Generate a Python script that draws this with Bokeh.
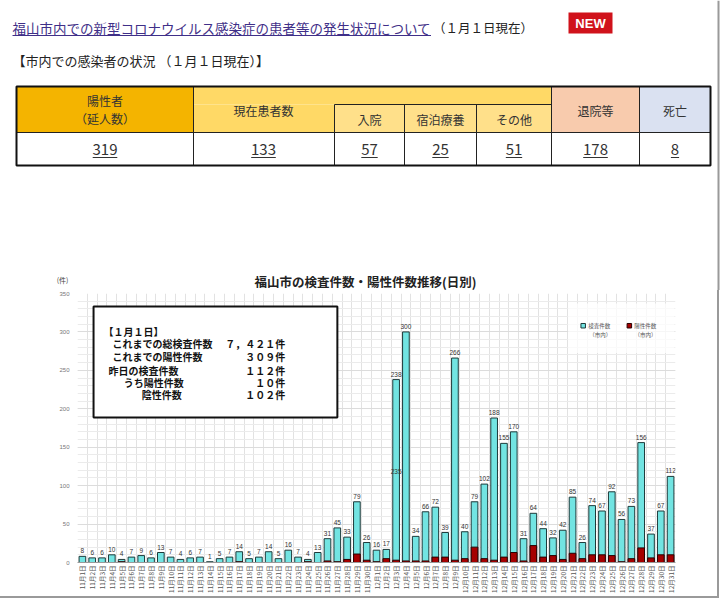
import math
from bokeh.plotting import figure
from bokeh.models import Range1d, FixedTicker, SingleIntervalTicker, ColumnDataSource
from bokeh.embed import file_html
from bokeh.resources import INLINE
from bokeh.core.properties import value

JP = value("Noto Sans CJK JP")

# ---------------- data ----------------
page_title = "福山市内での新型コロナウイルス感染症の患者等の発生状況について"
page_title_date = "（１月１日現在）"
badge_text = "NEW"
section_title = "【市内での感染者の状況 （１月１日現在）】"

status_labels = ["陽性者", "（延人数）", "現在患者数", "入院", "宿泊療養", "その他", "退院等", "死亡"]
status_values = [319, 133, 57, 25, 51, 178, 8]

chart_title = "福山市の検査件数・陽性件数推移(日別)"
unit_label = "(件)"

dates = [f"11月{d}日" for d in range(1, 31)] + [f"12月{d}日" for d in range(1, 32)]
tests = [8, 6, 6, 10, 4, 7, 9, 6, 13, 7,
         4, 6, 7, 1, 5, 7, 14, 5, 7, 14,
         5, 16, 7, 4, 13, 31, 45, 33, 79, 26,
         16, 17, 238, 300, 34, 66, 72, 39, 266, 40,
         79, 102, 188, 155, 170, 31, 64, 44, 32, 42,
         85, 26, 74, 67, 92, 56, 73, 156, 37, 67,
         112]
positives = [0, 0, 0, 0, 1, 0, 0, 0, 0, 0,
             0, 0, 0, 0, 0, 0, 1, 0, 0, 0,
             0, 0, 0, 1, 0, 2, 1, 4, 11, 3,
             1, 5, 3, 2, 2, 2, 7, 7, 3, 5,
             20, 5, 3, 7, 13, 2, 22, 7, 9, 4,
             12, 5, 10, 10, 9, 1, 5, 19, 6, 10,
             10]
negative_label_day = "12月3日"

info_head = "【１月１日】"
info_labels = ["これまでの総検査件数", "これまでの陽性件数", "昨日の検査件数", "うち陽性件数", "陰性件数"]
info_values = ["７，４２１件", "３０９件", "１１２件", "１０件", "１０２件"]

legend_labels = ["検査件数", "陽性件数"]
legend_sub = "（市内）"

# ---------------- header (page part) ----------------
W = 720
HH = 290          # header height (picture y 0..290)
CW = 717          # chart canvas width (border drawn to its right)
CH = 306          # chart canvas height (border drawn below)
BW = 2            # panel border width

h = figure(width=W, height=HH, x_range=Range1d(0, W), y_range=Range1d(HH, 0),
           x_axis_type=None, y_axis_type=None, output_backend="svg",
           toolbar_location=None, min_border=0)
h.grid.visible = False
h.outline_line_color = None

link_col = "#3F2F88"
fs_title = 13.5
h.text(x=[12], y=[27], text=[page_title], text_font=JP, text_font_size=f"{fs_title}px",
       text_color=link_col, text_baseline="middle")
tw = len(page_title) * fs_title
h.segment(x0=[12], y0=[35], x1=[12 + tw], y1=[35], line_color=link_col, line_width=1)
h.text(x=[12 + tw + 2], y=[27], text=[page_title_date], text_font=JP, text_font_size="12.5px",
       text_color="#222222", text_baseline="middle")

h.quad(left=[568], right=[612], top=[12], bottom=[33], fill_color="#D0121B", line_color=None)
h.text(x=[590], y=[22.5], text=[badge_text], text_font=value("Liberation Sans"),
       text_font_style="bold", text_font_size="13px", text_color="white",
       text_align="center", text_baseline="middle")

h.text(x=[12], y=[60], text=[section_title], text_font=JP, text_font_size="13px",
       text_color="#222222", text_baseline="middle")

# table geometry
X0, X1, X2, X3, X4, X5, X6, X7 = 16, 193, 334, 404, 476, 551, 639, 710
Y0, Y1, Y2, Y3 = 86, 104, 132, 165
h.quad(left=[X0, X1, X1, X2, X3, X4, X5, X6, X0],
       right=[X1, X5, X2, X3, X4, X5, X6, X7, X7],
       top=[Y0, Y0, Y1, Y1, Y1, Y1, Y0, Y0, Y2],
       bottom=[Y2, Y1, Y2, Y2, Y2, Y2, Y2, Y2, Y3],
       fill_color=["#F4B400", "#FFD966", "#FFD966", "#FFE08A", "#FFE08A", "#FFE08A",
                   "#F8CBAD", "#DAE1F1", "#FFFFFF"],
       line_color=None)
h.segment(x0=[X2, X1, X2, X3, X4, X5, X6, X0],
          y0=[Y1, Y0, Y1, Y1, Y1, Y0, Y0, Y2],
          x1=[X5, X1, X2, X3, X4, X5, X6, X7],
          y1=[Y1, Y3, Y3, Y3, Y3, Y3, Y3, Y2],
          line_color="#222222", line_width=1)
h.quad(left=[X0], right=[X7], top=[Y0], bottom=[Y3], fill_color=None,
       line_color="#111111", line_width=2)

hdr_x = [(X0 + X1) / 2, (X0 + X1) / 2, 263, (X2 + X3) / 2, (X3 + X4) / 2, (X4 + X5) / 2,
         (X5 + X6) / 2, (X6 + X7) / 2]
hdr_y = [100, 118, 110, 119, 119, 119, 110, 110]
h.text(x=hdr_x, y=hdr_y, text=status_labels, text_font=JP, text_font_size="12px",
       text_color="#333333", text_align="center", text_baseline="middle")

val_x = [(X0 + X1) / 2, 263, (X2 + X3) / 2, (X3 + X4) / 2, (X4 + X5) / 2,
         (X5 + X6) / 2, (X6 + X7) / 2]
val_txt = [str(v) for v in status_values]
h.text(x=val_x, y=[148.5] * len(val_x), text=val_txt, text_font=JP, text_font_size="15px",
       text_color="#333333", text_align="center", text_baseline="middle")
uw = [len(t) * 8.2 / 2 for t in val_txt]
h.segment(x0=[x - w for x, w in zip(val_x, uw)], y0=[157] * len(val_x),
          x1=[x + w for x, w in zip(val_x, uw)], y1=[157] * len(val_x),
          line_color="#333333", line_width=1)

h.text(x=[365], y=[281], text=[chart_title], text_font=JP, text_font_style="bold",
       text_font_size="12.5px", text_color="#222222", text_align="center",
       text_baseline="middle")
h.text(x=[62], y=[279], text=[unit_label], text_font=JP, text_font_size="7px",
       text_color="#444444", text_align="center", text_baseline="middle")
# panel right border (continues the chart's border)
h.segment(x0=[CW + BW / 2], y0=[0], x1=[CW + BW / 2], y1=[HH], line_color="#9A9A9A",
          line_width=BW)

# ---------------- chart ----------------
n = len(dates)
idx = list(range(n))
src = ColumnDataSource(dict(x=idx, tests=tests, pos=positives,
                            lbl=[str(t) for t in tests]))

FL, FR, FB, FT = 77, 673, 560, 293      # plot area in picture px
p = figure(width=CW + BW, height=CH + BW, x_range=Range1d(-0.5, n - 0.5),
           y_range=Range1d(0, 350),
           output_backend="svg", toolbar_location=None,
           min_border_left=FL, min_border_right=CW - FR,
           min_border_top=FT - HH, min_border_bottom=HH + CH - FB)
p.outline_line_color = None
p.styles = {"border-right": f"{BW}px solid #9A9A9A", "border-bottom": f"{BW}px solid #9A9A9A"}

def sx(px):
    return -0.5 + (px - FL) * n / (FR - FL)
def sy(py):
    return (FB - py) * 350 / (FB - FT)

p.yaxis.ticker = SingleIntervalTicker(interval=50, num_minor_ticks=5)
p.ygrid.grid_line_color = "#DCDCDC"
p.ygrid.minor_grid_line_color = "#EBEBEB"
p.xgrid.ticker = FixedTicker(ticks=[i - 0.5 for i in range(n + 1)])
p.xgrid.grid_line_color = "#E2E2E2"

p.yaxis.axis_line_color = None
p.yaxis.major_tick_line_color = None
p.yaxis.minor_tick_line_color = None
p.yaxis.major_tick_out = 0
p.yaxis.major_tick_in = 0
p.yaxis.minor_tick_out = 0
p.yaxis.major_label_standoff = 8
p.yaxis.major_label_text_font_size = "6px"
p.yaxis.major_label_text_color = "#777777"

p.xaxis.ticker = FixedTicker(ticks=idx)
p.xaxis.major_label_overrides = {i: d for i, d in enumerate(dates)}
p.xaxis.major_label_orientation = math.pi / 2
p.xaxis.major_label_text_font = "Noto Sans CJK JP"
p.xaxis.major_label_text_font_size = "6.5px"
p.xaxis.major_label_text_color = "#555555"
p.xaxis.major_label_standoff = 3
p.xaxis.major_tick_line_color = None
p.xaxis.minor_tick_line_color = None
p.xaxis.major_tick_out = 0
p.xaxis.major_tick_in = 0
p.xaxis.axis_line_color = "#9A9A9A"

p.quad(left=[sx(93)], right=[sx(336)], top=[sy(306)], bottom=[sy(416)],
       fill_color="white", line_color="#111111", line_width=2)
p.text(x=[sx(103)], y=[sy(331)], text=[info_head], text_font=JP, text_font_style="bold",
       text_font_size="10px", text_color="#111111", text_baseline="middle")
info_xpx = [112, 112, 108, 123, 141]
info_ypx = [342.5, 356, 369, 381, 393]
p.text(x=[sx(v) for v in info_xpx], y=[sy(v) for v in info_ypx], text=info_labels,
       text_font=JP, text_font_style="bold", text_font_size="10px", text_color="#111111",
       text_baseline="middle")
p.text(x=[sx(284)] * len(info_values), y=[sy(v) for v in info_ypx], text=info_values,
       text_font=JP, text_font_style="bold", text_font_size="10px", text_color="#111111",
       text_baseline="middle", text_align="right")

p.quad(left=[sx(566)], right=[sx(672)], top=[sy(303)], bottom=[sy(352)],
       fill_color="white", fill_alpha=0.75, line_color=None)
p.scatter(x=[sx(581)], y=[sy(325)], marker="square", size=4.5, fill_color="#72E4E2",
          line_color="#1E3A3A", line_width=1)
p.scatter(x=[sx(627)], y=[sy(325)], marker="square", size=4.5, fill_color="#A50000",
          line_color="#2A0000", line_width=1)
p.text(x=[sx(586), sx(632)], y=[sy(325)] * 2, text=legend_labels, text_font=JP,
       text_font_size="5.5px", text_color="#555555", text_baseline="middle")
p.text(x=[sx(598), sx(643)], y=[sy(334)] * 2, text=[legend_sub] * 2, text_font=JP,
       text_font_size="5.5px", text_color="#555555", text_baseline="middle",
       text_align="center")

p.vbar(x="x", top="tests", width=0.68, source=src, fill_color="#72E4E2",
       line_color="#1E3A3A", line_width=1)
p.vbar(x="x", top="pos", width=0.68, source=src, fill_color="#A50000",
       line_color="#2A0000", line_width=1)
p.text(x="x", y="tests", text="lbl", source=src, text_align="center",
       text_baseline="bottom", y_offset=-3, text_font=value("Liberation Sans"),
       text_font_size="6.5px", text_color="#333333")

ni = dates.index(negative_label_day)
p.text(x=[ni], y=[tests[ni] / 2], text=[str(tests[ni] - positives[ni])], text_align="center",
       text_baseline="middle", text_font=value("Liberation Sans"),
       text_font_size="6.5px", text_color="#333333")

open("out.html", "w").write(file_html([h, p], INLINE))
